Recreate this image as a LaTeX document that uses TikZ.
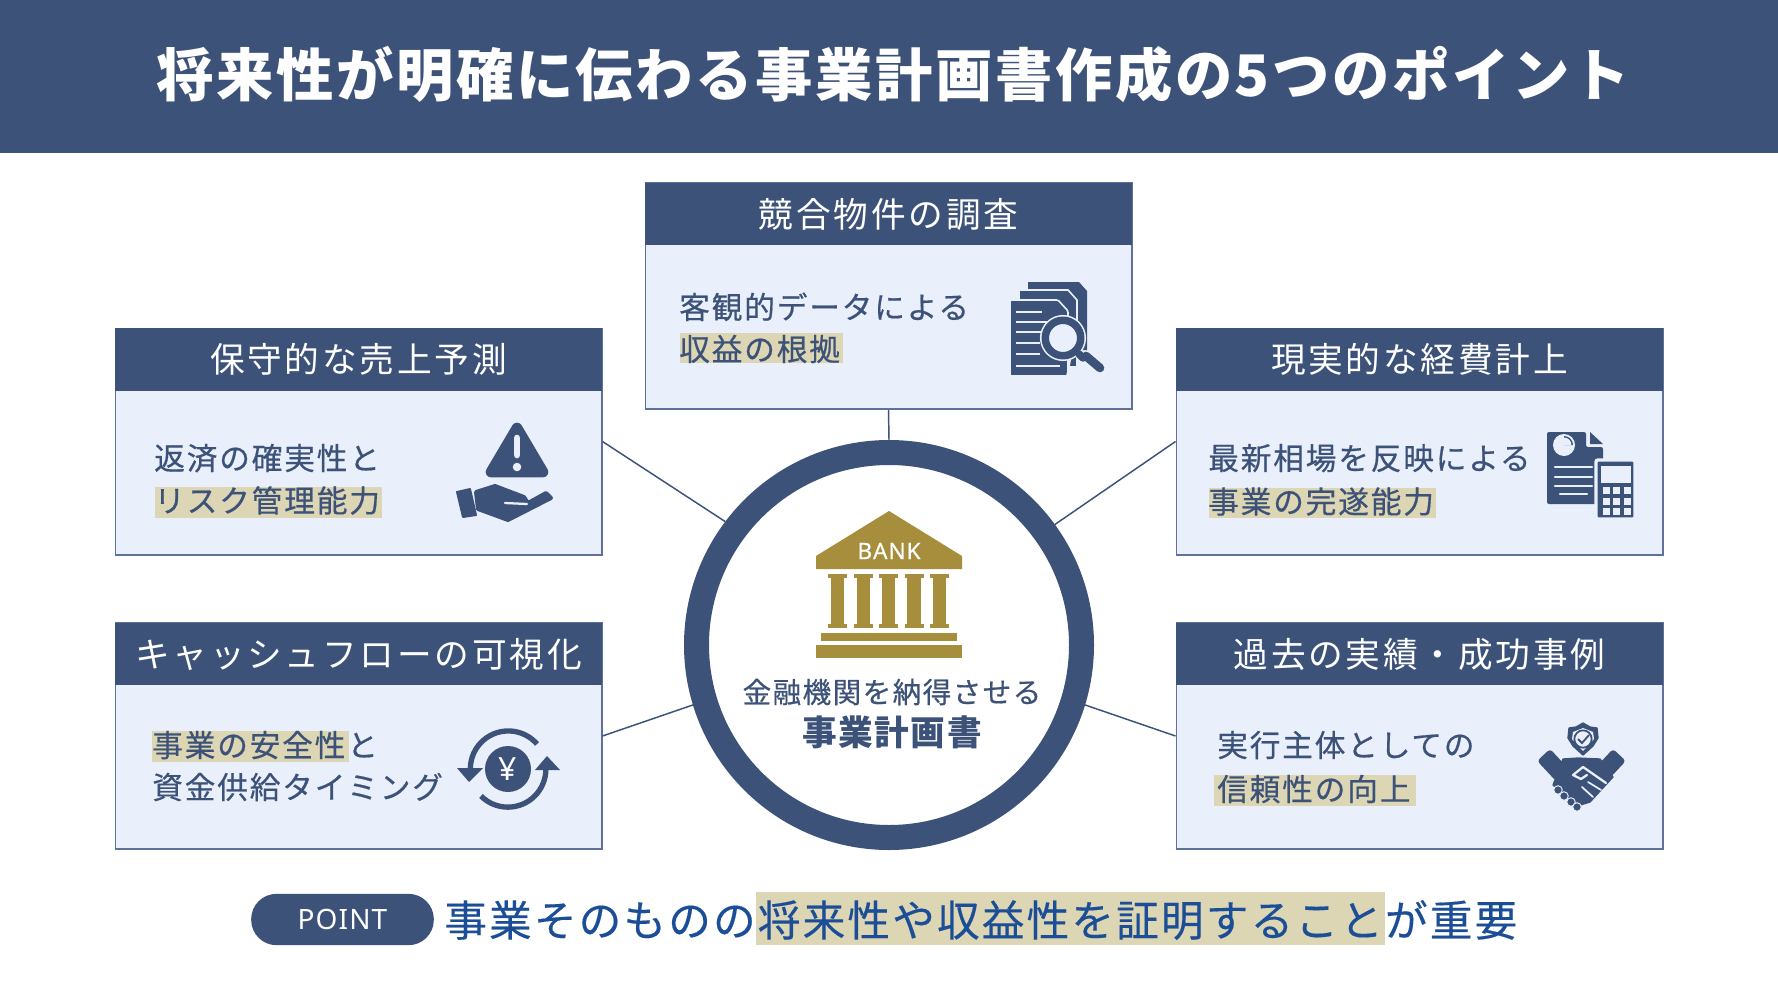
\documentclass[tikz,border=0pt]{standalone}
\usepackage{fontspec}
\setmainfont{Noto Sans CJK JP}
\newfontfamily\fTitle[LetterSpace=4.5]{Noto Sans CJK JP}
\newfontfamily\fHead[LetterSpace=8]{Noto Sans CJK JP}
\newfontfamily\fBody[LetterSpace=6,FakeBold=0.55]{Noto Sans CJK JP}
\newfontfamily\fHubA[LetterSpace=4.7,FakeBold=0.5]{Noto Sans CJK JP}
\newfontfamily\fHubB[LetterSpace=4.5]{Noto Sans CJK JP}
\newfontfamily\fBottom[LetterSpace=5,FakeBold=0.3]{Noto Sans CJK JP}
\newfontfamily\fLatin[LetterSpace=4]{Noto Sans}
\newfontfamily\fBank[LetterSpace=4,FakeBold=0.4]{Noto Sans}
\newcommand{\jstrut}{\rule{0pt}{.88em}\rule[-.12em]{0pt}{.12em}}
\definecolor{navy}{HTML}{3D5279}
\definecolor{bodyfill}{HTML}{E9F0FB}
\definecolor{edge}{HTML}{5F7199}
\definecolor{hilite}{HTML}{DDD6B4}
\definecolor{gold}{HTML}{A68E3C}
\definecolor{deepblue}{HTML}{1B4E96}
\tikzset{
  box/.style={rectangle,draw=edge,fill=bodyfill,line width=1.2pt,minimum width=364.8pt,minimum height=169.8pt,inner sep=0pt},
  headbox/.style={rectangle,fill=navy,minimum width=365.4pt,minimum height=47pt,inner sep=0pt,text=white,font=\fHead\fontsize{26}{26}\selectfont},
  bodytext/.style={anchor=west,inner sep=0pt,text=navy,font=\fBody\fontsize{23}{23}\selectfont},
  link/.style={draw=navy,line width=1.1pt},
  ink/.style={fill=navy,draw=navy,line join=round,line width=3pt},
}
\begin{document}
\begin{tikzpicture}[x=0.75pt,y=-0.75pt]
\useasboundingbox (0,0) rectangle (1778,1000);
\fill[white] (0,0) rectangle (1778,1000);
% title band
\node[rectangle,fill=navy,minimum width=1333.5pt,minimum height=115pt,inner sep=0pt] (band) at (889,76.5) {};
\node[inner sep=0pt,text=white,font=\fTitle\bfseries\fontsize{43}{43}\selectfont] (title) at (893,75) {\jstrut 将来性が明確に伝わる事業計画書作成の5つのポイント};
% boxes
\node[box] (bT) at (888.5,296) {};
\node[box] (bUL) at (358.5,441.5) {};
\node[box] (bUR) at (1419.5,441.5) {};
\node[box] (bLL) at (358.5,736) {};
\node[box] (bLR) at (1419.5,736) {};
\node[headbox] (hT) at (888.5,214) {\jstrut 競合物件の調査};
\node[headbox] (hUL) at (358.5,359.5) {\jstrut 保守的な売上予測};
\node[headbox] (hUR) at (1419.5,359.5) {\jstrut 現実的な経費計上};
\node[headbox] (hLL) at (358.5,654) {\jstrut キャッシュフローの可視化};
\node[headbox] (hLR) at (1419.5,654) {\jstrut 過去の実績・成功事例};
% hub
\node[circle,draw=navy,fill=white,line width=18.75pt,minimum size=288.75pt,inner sep=0pt] (hub) at (889,645) {};
\draw[link] (bT.south) -- (hub.90);
\draw[link] (bUL.east) -- (hub.143.7);
\draw[link] (bUR.west) -- (hub.36.5);
\draw[link] (bLL.east) -- (hub.197.3);
\draw[link] (bLR.west) -- (hub.-17.1);
% highlights
\fill[hilite] (680,333) rectangle (843,363);
\fill[hilite] (155,487) rectangle (382,518);
\fill[hilite] (1209,488) rectangle (1436,518);
\fill[hilite] (152,731) rectangle (349,762);
\fill[hilite] (1214,775) rectangle (1416,806);
% body texts
\node[bodytext] (t1a) at (679,307) {\jstrut 客観的データによる};
\node[bodytext] (t1b) at (679,349) {\jstrut 収益の根拠};
\node[bodytext] (t2a) at (154,458) {\jstrut 返済の確実性と};
\node[bodytext] (t2b) at (154,500.5) {\jstrut リスク管理能力};
\node[bodytext] (t3a) at (1208,458) {\jstrut 最新相場を反映による};
\node[bodytext] (t3b) at (1208,501.5) {\jstrut 事業の完遂能力};
\node[bodytext] (t4a) at (152,745) {\jstrut 事業の安全性と};
\node[bodytext] (t4b) at (152,787) {\jstrut 資金供給タイミング};
\node[bodytext] (t5a) at (1217,745) {\jstrut 実行主体としての};
\node[bodytext] (t5b) at (1217,789) {\jstrut 信頼性の向上};
% bank
\fill[gold] (889,511) -- (962,556) -- (962,569) -- (816,569) -- (816,556) -- cycle;
\foreach \c in {837.3,863.3,888.7,914,939.3}{
  \fill[gold] (\c-9.5,574) rectangle (\c+9.5,578);
  \fill[gold] (\c-6.7,578) rectangle (\c+6.7,624);
  \fill[gold] (\c-9.5,624) rectangle (\c+9.5,628);
}
\fill[gold] (821,633) rectangle (957,641);
\fill[gold] (816,645) rectangle (962,658);
\node[inner sep=0pt,text=white,font=\fBank\fontsize{17}{17}\selectfont] (bank) at (889,551) {BANK};
\node[inner sep=0pt,text=navy,font=\fHubA\fontsize{21.5}{21.5}\selectfont] (hubA) at (892,692) {\jstrut 金融機関を納得させる};
\node[inner sep=0pt,text=navy,font=\fHubB\bfseries\fontsize{26}{26}\selectfont] (hubB) at (892,732) {\jstrut 事業計画書};
% bottom
\node[rectangle,rounded corners=19pt,fill=navy,minimum width=137pt,minimum height=38.5pt,inner sep=0pt,text=white,font=\fLatin\fontsize{21}{21}\selectfont] (pill) at (342.5,919.5) {POINT};
\fill[hilite] (756,892) rectangle (1385,945);
\node[anchor=west,inner sep=0pt,text=deepblue,font=\fBottom\fontsize{32}{32}\selectfont] (bottom) at (444,920) {\jstrut 事業そのものの将来性や収益性を証明することが重要};
% icon: documents and magnifier
\fill[navy] (1028,282) -- (1079,282) -- (1087,291) -- (1087,350) -- (1028,350) -- cycle;
\draw[bodyfill,line width=1.2pt,fill=navy] (1019,290) -- (1068,290) -- (1077,300) -- (1077,367) -- (1019,367) -- cycle;
\draw[bodyfill,line width=1.2pt,fill=navy,rounded corners=1pt] (1010,300) -- (1058,300) -- (1068,311) -- (1068,376) -- (1010,376) -- cycle;
\foreach \ya/\xb in {312/1042,322/1050,332/1042,343/1040,354/1040,366/1060}{
  \draw[bodyfill,line width=1.2pt] (1016,\ya) -- (\xb,\ya);
}
\draw[bodyfill,line width=1.2pt] (1073,346) -- (1067,376);
\fill[bodyfill] (1063,338) circle[radius=17.3pt];
\draw[navy,line width=5.6pt,line cap=round] (1079,354) -- (1083,358);
\draw[navy,line width=6.5pt,line cap=round] (1086,356) -- (1100,368);
\draw[navy,line width=5.6pt,fill=bodyfill] (1063,338) circle[radius=13.3pt];
% icon: warning and hand
\fill[navy,draw=navy,line width=8pt,line join=round] (517,428) -- (491,472) -- (543,472) -- cycle;
\draw[bodyfill,line width=5pt,line cap=round] (517,438) -- (517,455);
\fill[bodyfill] (517,467) circle[radius=3.2pt];
\fill[navy,draw=navy,line width=1.5pt,line join=round] (457,492) -- (470,489) -- (476,515) -- (463,517) -- cycle;
\fill[ink] (476,492) -- (495,486) -- (524,497) -- (528,503) -- (546,493) -- (551,498) -- (508,520) -- (478,509) -- cycle;
\draw[bodyfill,line width=1.7pt,line cap=round] (505,503) -- (527,504);
% icon: report and calculator
\fill[navy,rounded corners=1.5pt] (1547,432) -- (1586,432) -- (1586,447) -- (1603,447) -- (1603,504) -- (1547,504) -- cycle;
\fill[navy] (1590,432) -- (1603,444) -- (1590,444) -- cycle;
\fill[bodyfill] (1564,445) circle[radius=8.25pt];
\fill[navy] (1564,445) -- (1564,436) arc[start angle=90,end angle=0,radius=6.75pt] -- cycle;
\fill[bodyfill] (1564,445) -- (1564,437.5) arc[start angle=90,end angle=0,radius=5.6pt] -- cycle;
\foreach \ya/\xa/\xb in {467/1555/1592,477/1555/1592,486/1555/1592,494/1560/1587}{
  \draw[bodyfill,line width=1.7pt,line cap=round] (\xa,\ya) -- (\xb,\ya);
}
\draw[bodyfill,line width=2.5pt,fill=navy,rounded corners=1.5pt] (1596,460) rectangle (1635,519);
\fill[bodyfill] (1601,466) rectangle (1631,483);
\foreach \kx in {1603,1613,1624}{\foreach \ky in {487,498,508}{
  \fill[bodyfill] (\kx,\ky) rectangle ++(7,6.5);
}}
% icon: yen cycle
\fill[navy] (508,769) circle[radius=17.25pt];
\node[inner sep=0pt,text=white,font=\fLatin\bfseries\fontsize{24}{24}\selectfont] (yen) at (508,769) {¥};
\draw[navy,line width=4pt] (537,744) arc[start angle=41,end angle=180,radius=28.5pt];
\draw[navy,line width=4pt] (481,796) arc[start angle=225,end angle=360,radius=28.5pt];
\fill[navy] (457,768) -- (483,768) -- (469,782) -- cycle;
\fill[navy] (535,770) -- (560,770) -- (547,756) -- cycle;
% icon: handshake and badge
\fill[navy,draw=navy,line width=1pt,line join=round] (1583,723) -- (1590,727) -- (1597,728) -- (1598,738) -- (1593,746) -- (1583,755) -- (1573,746) -- (1568,738) -- (1569,728) -- (1576,727) -- cycle;
\fill[bodyfill] (1583,728) -- (1593,732) -- (1594,739) -- (1583,751) -- (1572,739) -- (1573,732) -- cycle;
\draw[navy,line width=1.3pt,fill=bodyfill] (1583,739) circle[radius=6.5pt];
\draw[navy,line width=1.4pt] (1578,739) -- (1582,743) -- (1589,735);
\fill[navy,draw=navy,line width=1.2pt,line join=round,rounded corners=2pt,rotate around={-47:(1553,765)}] (1540,757) rectangle (1566,773);
\fill[navy,draw=navy,line width=1.2pt,line join=round,rounded corners=2pt,rotate around={47:(1610,765)}] (1597,757) rectangle (1623,773);
\fill[navy,draw=navy,line width=1pt,line join=round] (1563,759) -- (1578,758) -- (1600,759) -- (1613,777) -- (1590,802) -- (1577,806) -- (1553,785) -- cycle;
\foreach \bx/\by in {1558/790,1564/796,1571/802,1577/807}{\fill[navy,draw=bodyfill,line width=.7pt] (\bx,\by) circle[radius=3.2pt];}
\draw[bodyfill,line width=1.7pt,line join=round,line cap=round] (1606,783) -- (1583,767) -- (1573,775) -- (1581,779) -- (1587,775);
\draw[bodyfill,line width=1.3pt,line cap=round] (1601,790) -- (1588,782);
\draw[bodyfill,line width=1.3pt,line cap=round] (1593,797) -- (1582,787);
\end{tikzpicture}
\end{document}
